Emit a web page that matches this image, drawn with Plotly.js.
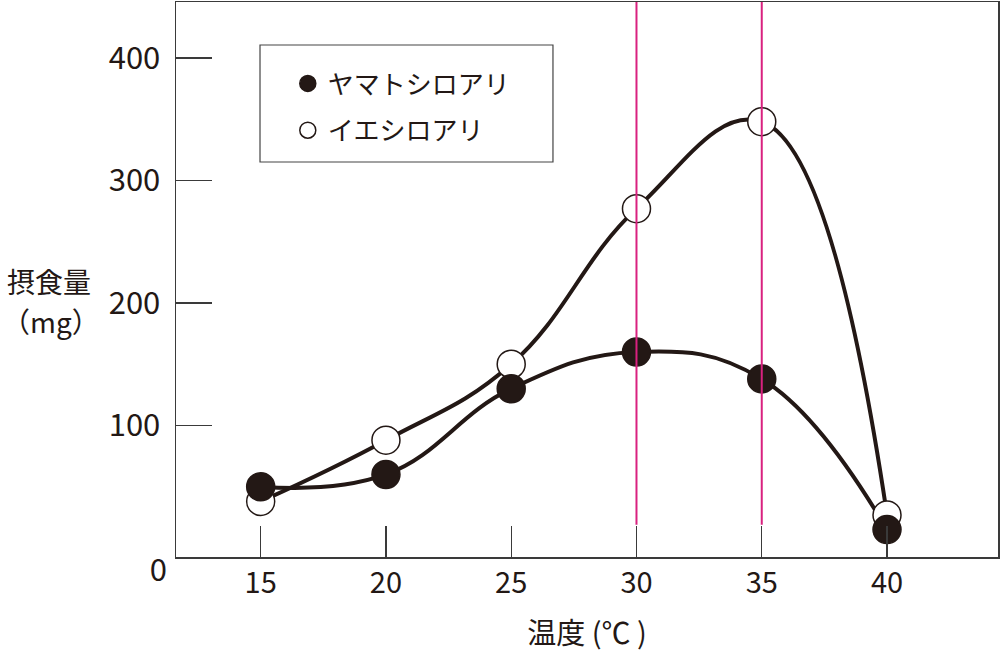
<!DOCTYPE html>
<html>
<head>
<meta charset="utf-8">
<script src="https://cdn.plot.ly/plotly-3.0.1.min.js"></script>
<style>
  html, body { margin: 0; padding: 0; background: #fff; }
  #chart { width: 1000px; height: 656px; }
</style>
</head>
<body>
<div id="chart"></div>
<script>
// temperatures (℃) and intake (mg)
const temps = [15, 20, 25, 30, 35, 40];
const yamato = [50, 60, 130, 160, 138, 15];   // ヤマトシロアリ
const ie = [38, 88, 150, 277, 348, 27];       // イエシロアリ
const yTicks = [100, 200, 300, 400];
const refTemps = [30, 35];                    // pink guide lines

const ink = '#231815';
const frame = '#3a3a3a';
const pink = '#d9217f';
const font = '"Noto Sans CJK JP", "Noto Sans", sans-serif';
const xRange = [11.62, 44.43];
const yRange = [-7.35, 445.7];

function curve(y, name) {
    return {
        x: temps,
        y: y,
        mode: 'lines',
        type: 'scatter',
        name: name,
        showlegend: false,
        hoverinfo: 'skip',
        line: { color: ink, width: 4, shape: 'spline', smoothing: 1.2 }
    };
}

function dots(y, name, fill, yaxis, rank) {
    return {
        x: temps,
        y: y,
        yaxis: yaxis,
        mode: 'markers',
        type: 'scatter',
        name: name,
        legendgroup: name,
        legendrank: rank,
        marker: { size: 28, color: fill, line: { color: ink, width: 1.5 } }
    };
}

const guideLines = refTemps.map(t => ({
    type: 'line', xref: 'x', yref: 'paper',
    x0: t, x1: t, y0: 0.058, y1: 1,
    line: { color: pink, width: 2 }
}));

const legendBox = {
    type: 'rect', xref: 'paper', yref: 'paper',
    x0: 0.1022, x1: 0.4586, y0: 0.7117, y1: 0.9225,
    line: { color: '#444', width: 1.2 }
};

const labelFont = { size: 29, family: font, color: ink };
const sideFont = { size: 28, family: font, color: ink };

Plotly.newPlot('chart', [
    curve(ie, 'イエシロアリ'),
    curve(yamato, 'ヤマトシロアリ'),
    dots(ie, 'イエシロアリ', '#ffffff', 'y', 2),
    // filled dots sit on top, on the overlay axis (same range)
    dots(yamato, 'ヤマトシロアリ', ink, 'y2', 1)
], {
    width: 1000,
    height: 656,
    margin: { l: 176, r: 2, t: 2, b: 99 },
    paper_bgcolor: '#fff',
    plot_bgcolor: '#fff',
    font: { family: font, color: ink },
    showlegend: true,
    legend: {
        x: 0.136, y: 0.8955, xanchor: 'left', yanchor: 'top',
        bgcolor: 'rgba(0,0,0,0)', borderwidth: 0,
        font: { size: 26, family: font, color: ink },
        traceorder: 'grouped', tracegroupgap: 10, itemsizing: 'trace'
    },
    xaxis: {
        range: xRange,
        tickvals: temps,
        ticks: 'inside', ticklen: 31, tickwidth: 1.2, tickcolor: frame,
        tickfont: labelFont,
        showline: true, linecolor: frame, linewidth: 1.5, mirror: true,
        showgrid: false, zeroline: false,
        title: { text: '温度 (℃ )', font: labelFont, standoff: 23 }
    },
    yaxis: {
        range: yRange,
        tickvals: yTicks,
        ticks: 'inside', ticklen: 36, tickwidth: 1.2, tickcolor: frame,
        tickfont: { size: 31, family: font, color: ink },
        ticklabelstandoff: 8,
        showline: true, linecolor: frame, linewidth: 1.5, mirror: true,
        showgrid: false, zeroline: false
    },
    // second left axis only carries the "0" label, set below the baseline
    yaxis2: {
        range: yRange,
        overlaying: 'y', anchor: 'x', side: 'left',
        tickvals: [0], ticks: '',
        ticklabelshift: 22,
        ticklabelstandoff: 8,
        tickfont: { size: 31, family: font, color: ink },
        showline: false, showgrid: false, zeroline: false
    },
    shapes: [legendBox].concat(guideLines),
    annotations: [{
        xref: 'paper', yref: 'paper', x: -0.155, y: 0.498,
        xanchor: 'center', yanchor: 'middle', showarrow: false,
        text: '摂食量', font: sideFont
    }, {
        xref: 'paper', yref: 'paper', x: -0.1525, y: 0.425,
        xanchor: 'center', yanchor: 'middle', showarrow: false,
        text: '（mg）', font: sideFont
    }]
}, { displayModeBar: false, staticPlot: true });
</script>
</body>
</html>
